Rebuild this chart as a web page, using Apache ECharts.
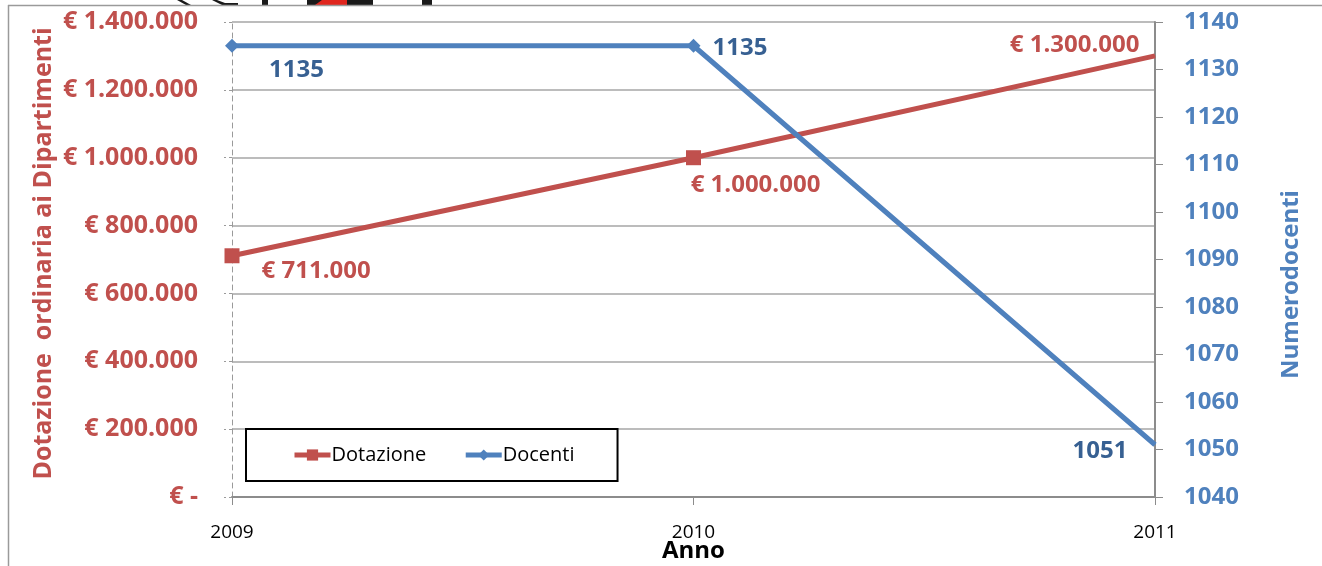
<!DOCTYPE html>
<html>
<head>
<meta charset="utf-8">
<script src="https://cdn.jsdelivr.net/npm/echarts@6/dist/echarts.min.js"></script>
<style>
html,body{margin:0;padding:0;background:#fff;}
#chart{width:1322px;height:566px;}
</style>
</head>
<body>
<div id="chart"></div>
<script>
const years = ['2009', '2010', '2011'];
const dotazione = [711000, 1000000, 1300000];
const docenti = [1135, 1135, 1051];
const leftTicks = { min: 0, max: 1400000, interval: 200000 };
const rightTicks = { min: 1040, max: 1140, interval: 10 };

const RED = '#C0504D';
const BLUE = '#4F81BD';
const BLUE_DARK = '#376092';
const FONT = '"Open Sans", "Liberation Sans", sans-serif';

function euro(v) {
  if (v === 0) return '€ -';
  return '€ ' + String(v).replace(/\B(?=(\d{3})+(?!\d))/g, '.');
}

const redLabels = [
  { position: 'right', distance: 22, offset: [0, 15] },
  { position: 'bottom', distance: 8, offset: [62, 0] },
  { position: 'left', distance: 15, offset: [0, -11] }
];
const blueLabels = [
  { position: 'right', distance: 30, offset: [0, 24] },
  { position: 'right', distance: 12, offset: [0, 2] },
  { position: 'left', distance: 27, offset: [0, 6] }
];

const chart = echarts.init(document.getElementById('chart'));
chart.setOption({
  backgroundColor: '#fff',
  animation: false,
  grid: { left: 232, right: 167, top: 22, bottom: 69, containLabel: false, outerBoundsMode: 'none' },
  legend: {
    left: 246, top: 429,
    padding: [16, 43, 16, 46],
    borderColor: '#000', borderWidth: 2,
    itemWidth: 36, itemHeight: 14, itemGap: 37,
    lineStyle: { width: 5 },
    textStyle: { fontFamily: FONT, fontSize: 20, color: '#000', padding: [0, 0, 0, -4] },
    data: ['Dotazione', 'Docenti']
  },
  xAxis: {
    type: 'category',
    data: years,
    boundaryGap: false,
    name: 'Anno',
    nameLocation: 'middle',
    nameGap: 42,
    nameMoveOverlap: false,
    nameTextStyle: { fontFamily: FONT, fontSize: 24, fontWeight: 'bold', color: '#000' },
    axisLine: { lineStyle: { color: '#8C8C8C', width: 2 } },
    axisTick: { show: true, length: 8, lineStyle: { color: '#8C8C8C', width: 1 } },
    axisLabel: { fontFamily: FONT, fontSize: 19, color: '#000', margin: 26 },
    splitLine: { show: false }
  },
  yAxis: [
    {
      type: 'value',
      position: 'left',
      min: leftTicks.min, max: leftTicks.max, interval: leftTicks.interval,
      name: 'Dotazione  ordinaria ai Dipartimenti',
      nameLocation: 'middle',
      nameGap: 176,
      nameMoveOverlap: false,
      nameTextStyle: { fontFamily: FONT, fontSize: 25, fontWeight: 'bold', color: RED, padding: [0, 0, 0, 12] },
      axisLine: { show: true, lineStyle: { color: '#9A9A9A', width: 1, type: [5, 4] } },
      axisTick: { show: true, length: 8, lineStyle: { color: '#9A9A9A', type: [3, 3] } },
      axisLabel: { fontFamily: FONT, fontSize: 25, fontWeight: 'bold', color: RED, margin: 34, formatter: euro },
      splitLine: { show: true, lineStyle: { color: '#A6A6A6', width: 1.5 } }
    },
    {
      type: 'value',
      position: 'right',
      min: rightTicks.min, max: rightTicks.max, interval: rightTicks.interval,
      name: 'Numerodocenti',
      nameLocation: 'middle',
      nameGap: 124,
      nameMoveOverlap: false,
      nameTextStyle: { fontFamily: FONT, fontSize: 24, fontWeight: 'bold', color: BLUE, padding: [0, 50, 0, 0] },
      axisLine: { show: true, lineStyle: { color: '#8C8C8C', width: 2 } },
      axisTick: { show: true, length: 8, lineStyle: { color: '#8C8C8C' } },
      axisLabel: { fontFamily: FONT, fontSize: 24, fontWeight: 'bold', color: BLUE, margin: 29, formatter: (v) => String(v) },
      splitLine: { show: false }
    }
  ],
  series: [
    {
      name: 'Dotazione',
      type: 'line',
      yAxisIndex: 0,
      z: 3,
      lineStyle: { color: RED, width: 5 },
      itemStyle: { color: RED },
      symbol: 'rect',
      symbolSize: 15,
      data: dotazione.map((v, i) => ({
        value: v,
        symbolSize: i === dotazione.length - 1 ? 1 : 15,
        label: Object.assign({
          show: true, formatter: (p) => euro(p.value),
          fontFamily: FONT, fontSize: 24, fontWeight: 'bold', color: RED
        }, redLabels[i])
      }))
    },
    {
      name: 'Docenti',
      type: 'line',
      yAxisIndex: 1,
      z: 4,
      lineStyle: { color: BLUE, width: 5 },
      itemStyle: { color: BLUE },
      symbol: 'diamond',
      symbolSize: 14,
      data: docenti.map((v, i) => ({
        value: v,
        symbolSize: i === docenti.length - 1 ? 1 : 14,
        label: Object.assign({
          show: true,
          fontFamily: FONT, fontSize: 24, fontWeight: 'bold', color: BLUE_DARK
        }, blueLabels[i])
      }))
    }
  ],
  graphic: [
    { type: 'line', shape: { x1: 8, y1: 5.5, x2: 1322, y2: 5.5 }, style: { stroke: '#9A9A9A', lineWidth: 1.5 }, z: 10 },
    { type: 'line', shape: { x1: 8.5, y1: 5, x2: 8.5, y2: 566 }, style: { stroke: '#9A9A9A', lineWidth: 1.5 }, z: 10 },
    { type: 'polygon', shape: { points: [[177, 0], [182, 0], [191, 5], [186, 5]] }, style: { fill: '#1a1a1a' }, z: 5 },
    { type: 'polygon', shape: { points: [[212, 0], [217, 0], [225, 3], [238, 3], [238, 5], [222, 5]] }, style: { fill: '#1a1a1a' }, z: 5 },
    { type: 'rect', shape: { x: 262, y: 0, width: 6, height: 5 }, style: { fill: '#1a1a1a' }, z: 5 },
    { type: 'rect', shape: { x: 307, y: 0, width: 15, height: 5 }, style: { fill: '#1a1a1a' }, z: 5 },
    { type: 'polygon', shape: { points: [[322, 0], [347, 0], [347, 5], [315, 5]] }, style: { fill: '#e0261e' }, z: 5 },
    { type: 'rect', shape: { x: 347, y: 0, width: 26, height: 5 }, style: { fill: '#1a1a1a' }, z: 5 },
    { type: 'rect', shape: { x: 422, y: 0, width: 10, height: 5 }, style: { fill: '#1a1a1a' }, z: 5 }
  ]
});
</script>
</body>
</html>
